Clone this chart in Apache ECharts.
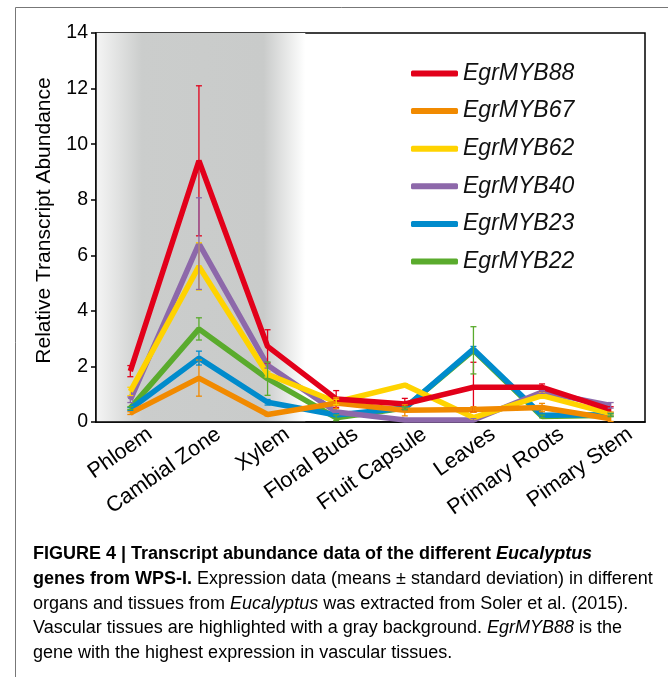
<!DOCTYPE html>
<html>
<head>
<meta charset="utf-8">
<script src="https://cdn.jsdelivr.net/npm/echarts@6/dist/echarts.min.js"></script>
<style>
  html, body { margin: 0; padding: 0; background: #fff; }
  #chart { width: 668px; height: 677px; }
</style>
</head>
<body>
<div id="chart"></div>
<script>
// tissues on the x axis
var tissues = ['Phloem', 'Cambial Zone', 'Xylem', 'Floral Buds', 'Fruit Capsule', 'Leaves', 'Primary Roots', 'Pimary Stem'];
var yTicks = [0, 2, 4, 6, 8, 10, 12, 14];

// means and standard deviations per gene
var myb88   = [1.83, 9.40, 2.72, 0.83, 0.65, 1.25, 1.25, 0.45];
var myb88Sd = [0.20, 2.70, 0.60, 0.30, 0.20, 0.90, 0.12, 0.10];
var myb67   = [0.32, 1.58, 0.27, 0.68, 0.42, 0.45, 0.52, 0.12];
var myb67Sd = [0.05, 0.65, 0.05, 0.20, 0.20, 0.10, 0.15, 0.10];
var myb62   = [1.10, 5.60, 1.72, 0.72, 1.33, 0.16, 0.95, 0.30];
var myb62Sd = [0.15, 0.85, 0.10, 0.10, 0.05, 0.05, 0.10, 0.05];
var myb40   = [0.80, 6.42, 2.04, 0.36, 0.07, 0.07, 1.08, 0.60];
var myb40Sd = [0.10, 1.65, 0.10, 0.05, 0.05, 0.05, 0.05, 0.10];
var myb23   = [0.47, 2.30, 0.71, 0.25, 0.50, 2.62, 0.24, 0.26];
var myb23Sd = [0.05, 0.25, 0.10, 0.05, 0.05, 0.10, 0.05, 0.05];
var myb22   = [0.50, 3.35, 1.56, 0.15, 0.50, 2.58, 0.20, 0.24];
var myb22Sd = [0.05, 0.40, 0.60, 0.10, 0.05, 0.85, 0.05, 0.05];

var genes = [
  { name: 'EgrMYB88', color: '#e2001a', mean: myb88, sd: myb88Sd },
  { name: 'EgrMYB67', color: '#f18a00', mean: myb67, sd: myb67Sd },
  { name: 'EgrMYB62', color: '#ffd300', mean: myb62, sd: myb62Sd },
  { name: 'EgrMYB40', color: '#8d68aa', mean: myb40, sd: myb40Sd },
  { name: 'EgrMYB23', color: '#008bcc', mean: myb23, sd: myb23Sd },
  { name: 'EgrMYB22', color: '#5aab2d', mean: myb22, sd: myb22Sd }
];

var FONT = 'Liberation Sans';

// error bars sit on a hidden value axis that lines up with the category centres
function errorBars(g) {
  return {
    type: 'custom',
    name: g.name + ' sd',
    xAxisIndex: 1,
    silent: true,
    z: 4,
    data: g.mean.map(function (m, i) { return [i, Math.max(0, m - g.sd[i]), m + g.sd[i]]; }),
    renderItem: function (params, api) {
      var lo = api.coord([api.value(0), api.value(1)]);
      var hi = api.coord([api.value(0), api.value(2)]);
      var w = 3;
      var st = { stroke: g.color, lineWidth: 1.3 };
      return {
        type: 'group',
        children: [
          { type: 'line', shape: { x1: hi[0], y1: hi[1], x2: lo[0], y2: lo[1] }, style: st },
          { type: 'line', shape: { x1: hi[0] - w, y1: hi[1], x2: hi[0] + w, y2: hi[1] }, style: st },
          { type: 'line', shape: { x1: lo[0] - w, y1: lo[1], x2: lo[0] + w, y2: lo[1] }, style: st }
        ]
      };
    }
  };
}

var series = [];
// draw bottom-most first so EgrMYB88 ends up on top
genes.slice().reverse().forEach(function (g) {
  series.push({
    type: 'line',
    name: g.name,
    data: g.mean,
    showSymbol: false,
    symbol: 'none',
    z: 2,
    color: g.color,
    lineStyle: { width: 5.5, color: g.color },
    emphasis: { disabled: true }
  });
});
var bars = genes.map(errorBars);

// gray band behind vascular tissues (Phloem, Cambial Zone, Xylem)
bars[bars.length - 1].markArea = {
  silent: true,
  z: 0,
  itemStyle: {
    color: {
      type: 'linear', x: 0, y: 0, x2: 1, y2: 0,
      colorStops: [
        { offset: 0, color: '#f5f5f5' },
        { offset: 0.22, color: '#cbcdcc' },
        { offset: 0.8, color: '#c9cbca' },
        { offset: 1, color: '#ffffff' }
      ]
    }
  },
  data: [[{ xAxis: -0.5, yAxis: 14 }, { xAxis: 2.55, yAxis: 0 }]]
};
series = series.concat(bars);

var chart = echarts.init(document.getElementById('chart'));

var CS = 18;
var captionRich = {
  b: { fontFamily: FONT, fontSize: CS, fontWeight: 'bold', color: '#231f20' },
  bi: { fontFamily: FONT, fontSize: CS, fontWeight: 'bold', fontStyle: 'italic', color: '#231f20' },
  n: { fontFamily: FONT, fontSize: CS, color: '#404040' },
  i: { fontFamily: FONT, fontSize: CS, fontStyle: 'italic', color: '#404040' },
  g: { fontFamily: FONT, fontSize: CS, color: '#8a8a8a' }
};
var captionLines = [
  '{b|FIGURE 4 | Transcript abundance data of the different }{bi|Eucalyptus}',
  '{b|genes from WPS-I.}{n| Expression data (means \u00b1 standard deviation) in different}',
  '{n|organs and tissues from }{i|Eucalyptus}{n| was extracted from }{g|Soler et al. (2015)}{n|.}',
  '{n|Vascular tissues are highlighted with a gray background. }{i|EgrMYB88}{n| is the}',
  '{n|gene with the highest expression in vascular tissues.}'
];
var graphics = [
  {
    type: 'polyline',
    silent: true,
    shape: { points: [[15.5, 677], [15.5, 7.5], [668, 7.5]] },
    style: { stroke: '#777', lineWidth: 1, fill: null }
  }
];
captionLines.forEach(function (t, i) {
  graphics.push({
    type: 'text',
    x: 33,
    y: 554 + i * 24.8,
    silent: true,
    style: { text: t, rich: captionRich, verticalAlign: 'middle', align: 'left' }
  });
});

chart.setOption({
  animation: false,
  backgroundColor: '#fff',
  textStyle: { fontFamily: FONT },
  grid: {
    left: 96, top: 33, right: 23, bottom: 255,
    show: true, borderColor: '#000', borderWidth: 1.5, backgroundColor: 'transparent'
  },
  legend: {
    orient: 'vertical',
    left: 411,
    top: 62,
    padding: 0,
    itemWidth: 47,
    itemHeight: 6,
    itemGap: 14.6,
    selectedMode: false,
    data: genes.map(function (g) { return { name: g.name, icon: 'roundRect' }; }),
    textStyle: { fontFamily: FONT, fontSize: 23, fontStyle: 'italic', color: '#111', lineHeight: 22 }
  },
  xAxis: [{
    type: 'category',
    data: tissues,
    boundaryGap: true,
    axisLine: { onZero: false, lineStyle: { color: '#000', width: 1.5 } },
    axisTick: { alignWithLabel: true, length: 5, lineStyle: { color: '#000', width: 1.5 } },
    axisLabel: {
      rotate: 35,
      interval: 0,
      margin: 24,
      fontSize: 21.5,
      color: '#000',
      fontFamily: FONT,
      padding: [0, -24, 0, 0]
    },
    splitLine: { show: false }
  }, {
    type: 'value',
    min: -0.5,
    max: 7.5,
    show: false
  }],
  yAxis: {
    type: 'value',
    min: 0,
    max: 14,
    interval: 2,
    name: 'Relative Transcript Abundance',
    nameLocation: 'middle',
    nameGap: 41,
    nameTextStyle: { fontSize: 21, color: '#000', fontFamily: FONT, padding: [0, 0, 0, 14] },
    axisLine: { show: true, onZero: false, lineStyle: { color: '#000', width: 1.5 } },
    axisTick: { show: true, length: 5, lineStyle: { color: '#000', width: 1.5 } },
    axisLabel: {
      fontSize: 19.5, color: '#000', fontFamily: FONT, margin: 8,
      formatter: function (v) { return yTicks.indexOf(v) >= 0 ? String(v) : ''; }
    },
    splitLine: { show: false }
  },
  graphic: graphics,
  series: series
});
</script>
</body>
</html>
